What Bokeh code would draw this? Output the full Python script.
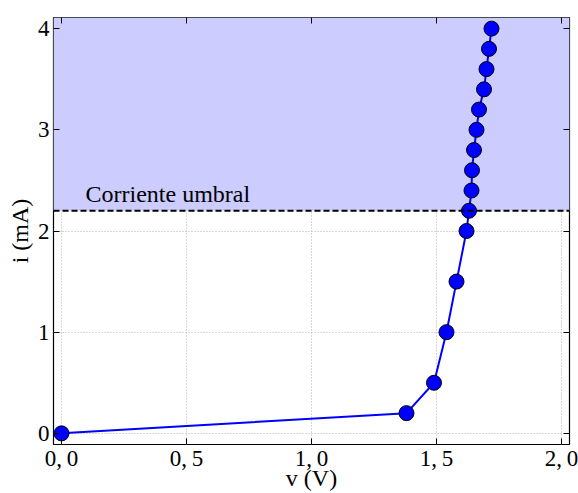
from bokeh.plotting import figure
from bokeh.models import Range1d, FixedTicker, LinearAxis, Span, BoxAnnotation, Label
from bokeh.embed import file_html
from bokeh.resources import INLINE

v = [0.0, 1.38, 1.49, 1.54, 1.58, 1.62, 1.63, 1.64, 1.642, 1.65, 1.66, 1.67, 1.69, 1.70, 1.71, 1.72]
i = [0.0, 0.2, 0.5, 1.0, 1.5, 2.0, 2.2, 2.4, 2.6, 2.8, 3.0, 3.2, 3.4, 3.6, 3.8, 4.0]
x_ticks = [0.0, 0.5, 1.0, 1.5, 2.0]
x_tick_labels = ["0,\u20090", "0,\u20095", "1,\u20090", "1,\u20095", "2,\u20090"]
y_ticks = [0, 1, 2, 3, 4]
y_tick_labels = ["0", "1", "2", "3", "4"]
threshold = 2.2
label_text = "Corriente umbral"
x_title = "v (V)"
y_title = "i (mA)"

FONT = "'Liberation Serif', serif"

p = figure(width=578, height=493, output_backend="svg", toolbar_location=None,
           x_range=Range1d(-0.032, 2.032), y_range=Range1d(-0.11, 4.11),
           min_border_left=53, min_border_right=9, min_border_top=17, min_border_bottom=49)
p.outline_line_color = "black"
p.outline_line_width = 1.2

p.add_layout(BoxAnnotation(bottom=threshold, fill_color="#ccccff", fill_alpha=1.0, level="underlay"))

for g in (p.xgrid, p.ygrid):
    g.grid_line_color = "#b0b0b0"
    g.grid_line_dash = "1 2"
    g.grid_line_width = 1
    g.level = "underlay"
p.xgrid.ticker = FixedTicker(ticks=x_ticks)
p.ygrid.ticker = FixedTicker(ticks=y_ticks)

xa = p.xaxis[0]
xa.ticker = FixedTicker(ticks=x_ticks)
xa.major_label_overrides = {t: l for t, l in zip(x_ticks, x_tick_labels)}
xa.axis_label = x_title
ya = p.yaxis[0]
ya.ticker = FixedTicker(ticks=y_ticks)
ya.major_label_overrides = {t: l for t, l in zip(y_ticks, y_tick_labels)}
ya.axis_label = y_title

for ax in (xa, ya):
    ax.major_label_text_font = FONT
    ax.major_label_text_font_size = "23px"
    ax.major_label_text_color = "black"
    ax.axis_label_text_font = FONT
    ax.axis_label_text_font_size = "24px"
    ax.axis_label_text_font_style = "normal"
    ax.axis_label_text_color = "black"
    ax.major_tick_in = 6
    ax.major_tick_out = 0
    ax.minor_tick_in = 0
    ax.minor_tick_out = 0
    ax.axis_line_color = None
    ax.major_tick_line_color = "black"
xa.major_label_standoff = 1
xa.axis_label_standoff = -9
ya.major_label_standoff = 4
ya.axis_label_standoff = 2

top = LinearAxis(ticker=FixedTicker(ticks=x_ticks),
                 major_label_overrides={t: "" for t in x_ticks},
                 major_tick_in=6, major_tick_out=0, minor_tick_in=0, minor_tick_out=0,
                 major_label_standoff=0, axis_line_color=None)
right = LinearAxis(ticker=FixedTicker(ticks=y_ticks),
                   major_label_overrides={t: "" for t in y_ticks},
                   major_tick_in=6, major_tick_out=0, minor_tick_in=0, minor_tick_out=0,
                   major_label_standoff=0, axis_line_color=None)
p.add_layout(top, "above")
p.add_layout(right, "right")

p.add_layout(Span(location=threshold, dimension="width", line_color="black",
                  line_dash="6 3", line_width=1.8))
p.add_layout(Label(x=0.096, y=2.235, text=label_text, text_font=FONT,
                   text_font_size="24px", text_color="black"))

p.line(v, i, line_color="blue", line_width=2)
p.scatter(v, i, size=15, fill_color="blue", line_color="black", line_width=1)

open("out.html", "w").write(file_html(p, INLINE))
